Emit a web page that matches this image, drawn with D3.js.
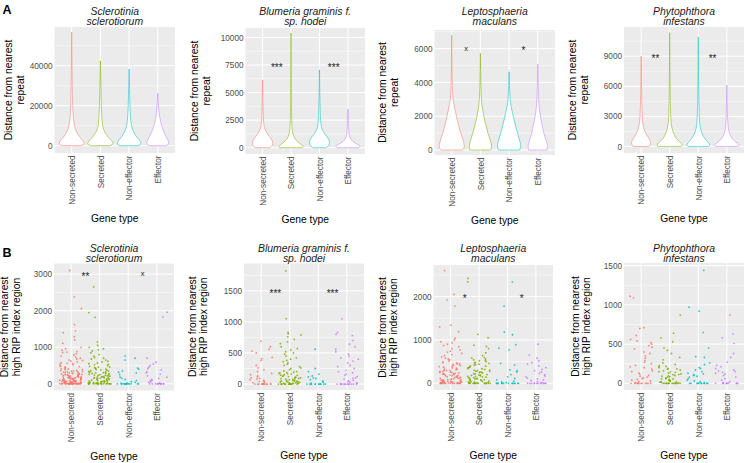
<!DOCTYPE html>
<html><head><meta charset="utf-8">
<script src="https://cdn.jsdelivr.net/npm/d3@7"></script>
<style>body{margin:0;background:#fff} svg{display:block} text{font-family:"Liberation Sans",Arial,sans-serif}</style>
</head><body><svg id="chart" width="745" height="463"></svg>
<script>
// ---------- DATA ----------
const geneTypes = ["Non-secreted", "Secreted", "Non-effector", "Effector"];
const typeColors = ["#F8766D", "#7CAE00", "#00BFC4", "#C77CFF"];
const speciesTitles = [["Sclerotinia", "sclerotiorum"], ["Blumeria graminis f.", "sp. hodei"], ["Leptosphaeria", "maculans"], ["Phytophthora", "infestans"]];
const yTitleA = ["Distance from nearest", "repeat"];
const yTitleB = ["Distance from nearest", "high RIP index region"];
const xTitle = "Gene type";
const panelLetters = ["A", "B"];

const ticksA = [[0, 20000, 40000], [0, 2500, 5000, 7500, 10000], [0, 2000, 4000, 6000], [0, 3000, 6000, 9000]];
const ticksB = [[0, 1000, 2000, 3000], [0, 500, 1000, 1500], [0, 1000, 2000], [0, 500, 1000, 1500]];
const limitsA = [[-3650, 59350], [-573, 10855], [-296, 7105], [-660, 11916]];
const limitsB = [[-182, 3291], [-96, 1940], [-155, 2729], [-85, 1534]];

const sigA = [[], [["***", 1.5, 7500], ["***", 3.5, 7500]], [["x", 1.5, 6000], ["*", 3.5, 6000]], [["**", 1.5, 9000], ["**", 3.5, 9000]]];
const sigB = [[["**", 1.5, 3000], ["x", 3.5, 3000]], [["***", 1.5, 1500], ["***", 3.5, 1500]], [["*", 1.5, 2000], ["*", 3.5, 2000]], []];

// violin outlines: [distance, relative half-width]
const violinsSclerotinia = [
  [[56800,0],[45000,0.02],[30000,0.04],[20000,0.07],[14000,0.12],[10000,0.2],[7000,0.35],[4500,0.6],[2500,0.88],[1200,1],[400,0.92],[0,0.65]],
  [[42400,0],[30000,0.04],[20000,0.07],[12000,0.12],[8000,0.22],[5000,0.5],[3000,0.8],[1500,1],[500,0.95],[0,0.7]],
  [[38300,0],[30000,0.03],[20000,0.06],[12000,0.12],[8000,0.25],[5000,0.5],[3000,0.78],[1500,0.93],[500,0.9],[0,0.65]],
  [[26200,0],[20000,0.05],[15000,0.12],[11000,0.25],[8000,0.4],[5000,0.6],[3000,0.78],[1500,0.86],[500,0.84],[0,0.6]]
];
const violinsBlumeria = [
  [[6150,0],[4000,0.03],[2500,0.06],[1800,0.12],[1400,0.3],[1000,0.55],[600,0.8],[300,0.82],[100,0.7],[0,0.55]],
  [[10400,0],[6000,0.02],[3000,0.04],[1800,0.07],[1200,0.14],[800,0.3],[500,0.55],[250,0.85],[100,1],[0,0.9]],
  [[7060,0],[4500,0.03],[2500,0.07],[1800,0.15],[1400,0.3],[1000,0.6],[600,0.8],[300,0.78],[100,0.65],[0,0.5]],
  [[3500,0],[2500,0.03],[1500,0.06],[1000,0.12],[700,0.25],[450,0.5],[250,0.85],[120,1],[0,0.85]]
];
const violinsLeptosphaeria = [
  [[6810,0],[5000,0.02],[3500,0.05],[3000,0.1],[2400,0.25],[1600,0.48],[1000,0.68],[600,0.88],[250,1],[80,0.95],[0,0.8]],
  [[5724,0],[4000,0.03],[3000,0.07],[2400,0.15],[1600,0.38],[1000,0.58],[500,0.8],[200,0.9],[0,0.8]],
  [[4635,0],[3500,0.04],[2800,0.1],[2400,0.2],[1800,0.38],[1000,0.64],[450,0.87],[200,0.92],[0,0.8]],
  [[5073,0],[3500,0.04],[2500,0.1],[2000,0.2],[1000,0.45],[450,0.7],[200,0.77],[0,0.7]]
];
const violinsPhytophthora = [
  [[9007,0],[6000,0.03],[4000,0.05],[2500,0.1],[1800,0.2],[1300,0.35],[800,0.62],[400,0.77],[150,0.72],[0,0.6]],
  [[11360,0],[7000,0.02],[4000,0.05],[2500,0.09],[1800,0.16],[1000,0.38],[600,0.65],[300,0.92],[120,1],[0,0.9]],
  [[10920,0],[7000,0.02],[4000,0.05],[2500,0.09],[1700,0.16],[1000,0.38],[600,0.62],[300,0.85],[120,0.9],[0,0.8]],
  [[6125,0],[4000,0.03],[2500,0.06],[1600,0.12],[1000,0.28],[600,0.52],[300,0.85],[120,1],[0,0.9]]
];

// RIP-region distances (individual genes)
const ripSclerotinia = [
  [3100,2380,2060,1620,1450,1400,1290,1200,1110,1000,960,920,880,860,820,790,760,730,700,680,650,620,600,580,560,540,520,500,480,460,440,420,400,390,370,350,340,330,310,300,290,280,270,260,250,240,230,220,210,200,190,180,175,170,160,150,145,140,130,125,120,110,105,100,95,90,85,80,75,70,65,60,55,50,45,40,35,30,25,20,18,15,12,10,8,6,5,4,3,2,1,0,0,0,0,0,0,0,0,0,0,0,0,0,0,0,
   410,385,362,344,322,305,288,266,248,232,214,196,183,168,152,138,122,108,96,84,72,63,52,44,36,28,22,16,11,7,4,2,870,640,555,470,335,255,165,62],
  [2650,1950,1820,1150,1050,1000,960,930,900,850,800,760,720,700,680,650,620,600,570,550,520,500,480,460,440,420,400,380,360,340,320,300,290,280,260,250,240,230,220,210,200,190,180,170,160,150,140,130,120,110,100,90,80,70,60,50,40,35,30,25,20,15,10,8,5,3,0,0,0,0,0,0,0,0,0,0,0,0,
   530,455,395,372,348,326,305,284,262,238,216,194,172,155,136,118,97,78,66,54,42,28,18,12,6,2],
  [760,700,650,430,400,350,320,300,250,180,150,120,90,60,40,20,10,0,0,0,0,0,0,0,0,0,0,0,0,0,0,0],
  [1960,1830,700,590,540,500,460,420,380,330,300,260,220,180,150,120,100,80,60,40,20,10,0,0,0,0,0,0,0,0,0,0,0,0]
];
const ripBlumeria = [
  [690,600,560,530,500,430,410,380,300,260,230,200,170,150,130,115,100,90,80,70,60,50,40,30,20,10,5,0,0,0,0,0,0,0,0,0,0,0,0],
  [1820,1050,830,810,790,760,720,680,650,600,570,550,520,500,480,450,420,400,380,360,340,320,300,280,260,250,230,210,200,190,180,170,160,150,140,130,120,110,100,95,90,80,75,70,60,55,50,45,40,35,30,25,20,15,10,5,0,0,0,0,0,0,0,0,0,0,0,0,0,0,0,
   185,164,142,126,108,86,66,48,33,22,12,7],
  [560,250,200,160,130,115,100,90,70,50,30,15,0,0,0,0,0,0,0,0,0,0,0,0],
  [1050,830,800,780,700,640,600,560,520,480,450,420,400,370,340,300,280,250,220,200,180,160,140,120,100,90,80,60,50,40,30,20,10,0,0,0,0,0,0,0,0,0,0,0,0,0,0]
];
const ripLeptosphaeria = [
  [2600,2050,1920,1780,1340,1300,1190,1040,1000,960,930,900,870,840,800,770,740,720,690,660,640,610,580,560,540,510,490,470,450,430,410,390,370,350,330,310,300,290,270,260,250,240,230,220,210,200,190,180,170,160,150,140,130,120,110,100,90,85,80,70,60,55,50,45,40,35,30,25,20,15,10,5,0,0,0,0,0,0,0,0,0,0,0,0,0,0,0,
   480,445,415,385,355,325,296,272,246,222,198,176,155,134,116,96,78,62,46,32,18,8,3],
  [2420,2340,1130,1050,880,850,800,700,640,600,580,560,540,520,500,480,460,440,420,400,380,360,340,320,300,290,280,260,250,240,220,200,190,180,170,160,150,140,130,120,110,100,90,80,70,60,50,40,30,20,10,5,0,0,0,0,0,0,0,0,0,0,0,0,0,0,0,
   520,470,430,395,365,335,305,275,245,215,186,158,132,108,86,64,44,26,12,4],
  [2340,1780,1180,1120,890,810,770,460,420,310,290,260,200,150,110,80,50,30,15,0,0,0,0,0,0,0,0,0,0,0,0,0,0,0,0],
  [900,650,580,520,480,440,400,360,320,290,260,230,200,170,150,120,100,80,60,40,20,10,0,0,0,0,0,0,0,0,0,0,0,0]
];
const ripPhytophthora = [
  [1110,1090,710,700,610,560,540,520,500,480,460,440,400,380,350,320,290,270,250,230,210,200,180,160,150,130,120,100,90,80,70,60,50,40,30,20,10,0,0,0,0,0,0,0,0,0,0,0,0],
  [870,640,580,530,450,420,380,330,300,260,240,225,210,200,190,180,170,160,150,140,130,120,110,100,95,90,80,70,60,55,50,40,30,25,20,15,10,5,0,0,0,0,0,0,0,0,0,0,0,0,0,0,
   215,185,146,112,84,58,36,18],
  [1440,970,920,650,450,340,330,260,240,200,190,170,150,130,120,110,100,90,80,60,40,30,20,10,0,0,0,0,0,0,0,0,0,0,0,0],
  [870,630,580,510,380,330,270,230,210,190,170,160,150,140,130,120,100,80,60,40,20,10,0,0,0,0,0,0,0,0,0,0]
];
const violinsA = [violinsSclerotinia, violinsBlumeria, violinsLeptosphaeria, violinsPhytophthora];
const ripB = [ripSclerotinia, ripBlumeria, ripLeptosphaeria, ripPhytophthora];

// ---------- LAYOUT ----------
const layoutA = [
  {x0:54.5, x1:175, y0:27, y1:153, ytx:23.5},
  {x0:245.5, x1:365, y0:28, y1:154, ytx:209.5},
  {x0:434.5, x1:555, y0:30, y1:155, ytx:397.5},
  {x0:624, x1:744, y0:27, y1:153, ytx:587.5}
];
const layoutB = [
  {x0:54, x1:174, y0:263.5, y1:390.5, ytx:19.6},
  {x0:244, x1:364, y0:263.5, y1:390, ytx:207},
  {x0:433.5, x1:553, y0:265, y1:390, ytx:397},
  {x0:624, x1:744, y0:263, y1:390, ytx:590}
];
const titleBaseA = [15, 24.5], titleBaseB = [252, 261.5];

const svg = d3.select("#chart");

// deterministic horizontal jitter (position only)
function jitterFrac(i, j, k) {
  const s = Math.sin((i + 1) * 12.9898 + (j + 1) * 78.233 + (k + 1) * 37.719) * 43758.5453;
  return s - Math.floor(s);
}

function drawPanel(lay, ticks, limits, title, titleBase, yTitle, sig, drawMarks) {
  const g = svg.append("g");
  const x = d3.scalePoint().domain(geneTypes).range([lay.x0, lay.x1]).padding(0.6);
  const y = d3.scaleLinear().domain(limits).range([lay.y1, lay.y0]);
  const step = x.step();
  g.append("rect").attr("x", lay.x0).attr("y", lay.y0).attr("width", lay.x1 - lay.x0).attr("height", lay.y1 - lay.y0).attr("fill", "#EBEBEB");
  const minor = [];
  for (let i = 0; i < ticks.length; i++) {
    const m = ticks[i] + (ticks[1] - ticks[0]) / 2;
    if (m < limits[1]) minor.push(m);
  }
  g.selectAll(".mn").data(minor).enter().append("line")
    .attr("x1", lay.x0).attr("x2", lay.x1).attr("y1", d => y(d)).attr("y2", d => y(d))
    .attr("stroke", "#fff").attr("stroke-width", 0.5);
  g.selectAll(".mj").data(ticks).enter().append("line")
    .attr("x1", lay.x0).attr("x2", lay.x1).attr("y1", d => y(d)).attr("y2", d => y(d))
    .attr("stroke", "#fff").attr("stroke-width", 1);
  g.selectAll(".vj").data(geneTypes).enter().append("line")
    .attr("y1", lay.y0).attr("y2", lay.y1).attr("x1", d => x(d)).attr("x2", d => x(d))
    .attr("stroke", "#fff").attr("stroke-width", 1);
  const yAxis = d3.axisLeft(y).tickValues(ticks).tickSize(0).tickPadding(2).tickFormat(d3.format("d"));
  const ya = g.append("g").attr("transform", `translate(${lay.x0},0)`).call(yAxis);
  ya.select(".domain").remove();
  ya.selectAll("text").attr("font-size", 8.2).attr("fill", "#4D4D4D").attr("font-family", '"Liberation Sans", Arial, sans-serif');
  const xAxis = d3.axisBottom(x).tickSize(0).tickPadding(0);
  const xa = g.append("g").attr("transform", `translate(0,${lay.y1})`).call(xAxis);
  xa.select(".domain").remove();
  xa.selectAll("text").attr("font-size", 8.2).attr("fill", "#4D4D4D").attr("font-family", '"Liberation Sans", Arial, sans-serif')
    .attr("text-anchor", "end").attr("transform", "rotate(-90)").attr("x", -2.5).attr("y", 0).attr("dy", "0.33em");
  drawMarks(g, x, y, step);
  sig.forEach(s => {
    const sx = x(geneTypes[0]) + (s[1] - 1) * step;
    const isStar = s[0].includes("*");
    const fs = isStar ? 10 : 7.5;
    const off = isStar ? 5.8 : 2.0;
    g.append("text").attr("x", sx).attr("y", y(s[2]) + off).attr("text-anchor", "middle")
      .attr("font-size", fs).attr("fill", "#222").text(s[0]);
  });
  const cx = (lay.x0 + lay.x1) / 2;
  title.forEach((t, i) => {
    g.append("text").attr("x", cx).attr("y", titleBase[i]).attr("text-anchor", "middle")
      .attr("font-size", 10.4).attr("font-style", "italic").attr("fill", "#1a1a1a").text(t);
  });
  const cy = (lay.y0 + lay.y1) / 2;
  yTitle.forEach((t, i) => {
    const bx = lay.ytx - (yTitle.length - 1 - i) * 11.3;
    g.append("text").attr("transform", `translate(${bx},${cy}) rotate(-90)`).attr("text-anchor", "middle")
      .attr("font-size", 10.3).attr("fill", "#000").text(t);
  });
  g.append("text").attr("x", cx).attr("y", lay.y1 + 69).attr("text-anchor", "middle")
    .attr("font-size", 10.3).attr("fill", "#000").text(xTitle);
}

layoutA.forEach((lay, k) => {
  drawPanel(lay, ticksA[k], limitsA[k], speciesTitles[k], titleBaseA, yTitleA, sigA[k], (g, x, y, step) => {
    const hw = 0.45 * step;
    violinsA[k].forEach((prof, j) => {
      const cx = x(geneTypes[j]);
      const area = d3.area().curve(d3.curveBasis)
        .y(d => y(d[0])).x0(d => cx - d[1] * hw).x1(d => cx + d[1] * hw);
      g.append("path").attr("d", area(prof)).attr("fill", "#fff")
        .attr("stroke", typeColors[j]).attr("stroke-width", 0.55);
    });
  });
});

layoutB.forEach((lay, k) => {
  drawPanel(lay, ticksB[k], limitsB[k], speciesTitles[k], titleBaseB, yTitleB, sigB[k], (g, x, y, step) => {
    ripB[k].forEach((vals, j) => {
      const cx = x(geneTypes[j]);
      g.selectAll(null).data(vals).enter().append("circle")
        .attr("cx", (d, i) => cx + (jitterFrac(i, j, k) - 0.5) * 0.8 * step)
        .attr("cy", d => y(d))
        .attr("r", 0.9)
        .attr("fill", typeColors[j]).attr("fill-opacity", 0.85);
    });
  });
});

svg.append("text").attr("x", 2.5).attr("y", 13.5).attr("font-size", 12.5).attr("font-weight", "bold").text(panelLetters[0]);
svg.append("text").attr("x", 2.5).attr("y", 257).attr("font-size", 12.5).attr("font-weight", "bold").text(panelLetters[1]);
</script>
</body></html>
